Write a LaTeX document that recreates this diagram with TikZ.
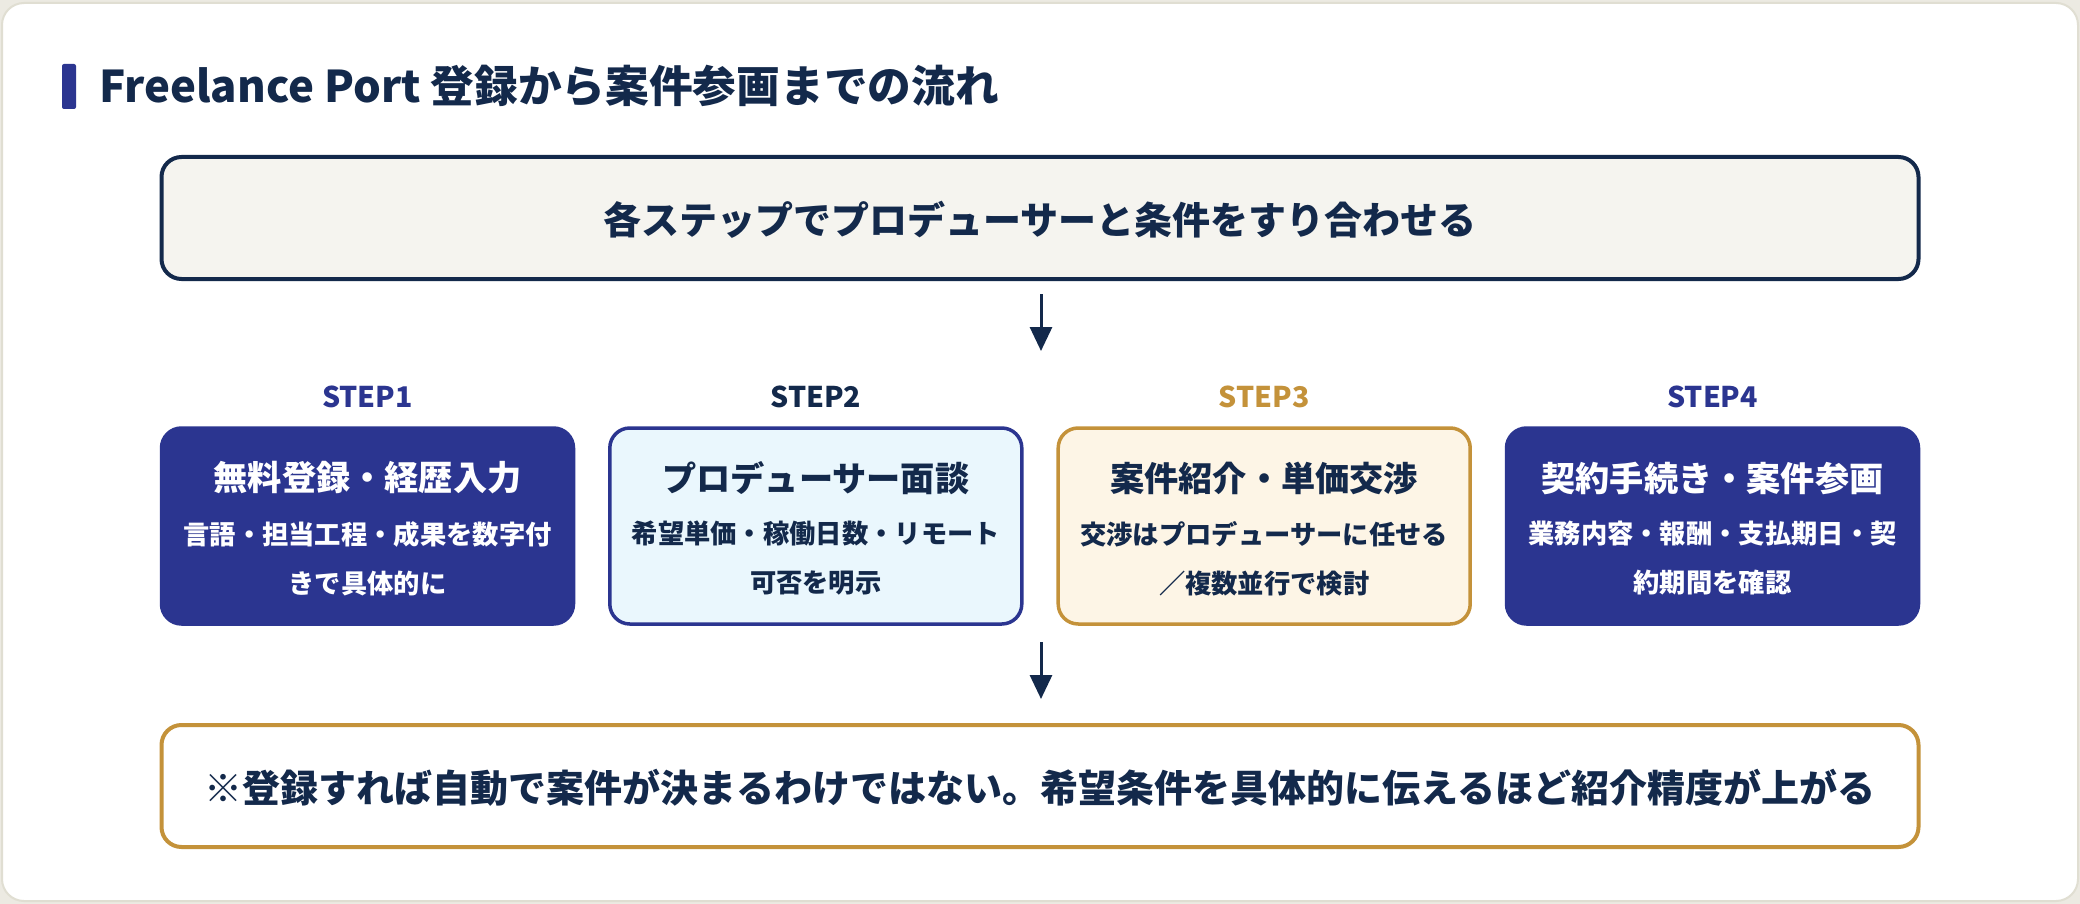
\documentclass[tikz,border=0pt]{standalone}
\usepackage{fontspec}
\setmainfont{Noto Sans CJK JP}
\usetikzlibrary{arrows.meta}
\definecolor{navy}{HTML}{13294B}
\definecolor{indigo}{HTML}{2B3590}
\definecolor{gold}{HTML}{C4923A}
\definecolor{paper}{HTML}{F5F4EF}
\definecolor{skyfill}{HTML}{EAF7FD}
\definecolor{creamfill}{HTML}{FDF5E6}
\definecolor{pagebg}{HTML}{ECEAE2}
\definecolor{cardline}{HTML}{E0DED2}
\tikzset{
  fs/.style 2 args={font=\fontsize{#1}{#2}\selectfont\bfseries},
  card/.style={draw=cardline, line width=2pt, fill=white, rounded corners=22pt},
  banner/.style={draw=navy, line width=4pt, fill=paper, rounded corners=20pt, minimum width=1757pt, minimum height=122pt, inner sep=0pt},
  notebox/.style={draw=gold, line width=4pt, fill=white, rounded corners=20pt, minimum width=1757pt, minimum height=122pt, inner sep=0pt},
  stepbox/.style={rounded corners=20pt, minimum width=412pt, minimum height=196pt, inner sep=0pt, line width=3.5pt},
  darkstep/.style={stepbox, fill=indigo, draw=indigo},
  bluestep/.style={stepbox, fill=skyfill, draw=indigo},
  goldstep/.style={stepbox, fill=creamfill, draw=gold},
  steplabel/.style={fs={28.5}{34}, inner sep=0pt},
  steptitle/.style={fs={34.2}{41}, inner sep=0pt},
  stepsub/.style={font=\fontsize{26.3}{49}\selectfont\bfseries, align=center, inner sep=0pt, anchor=north},
  arr/.style={draw=navy, line width=3pt, -{Triangle[width=22pt,length=24pt]}},
}
\begin{document}
\begin{tikzpicture}[x=1pt,y=-1pt]
\useasboundingbox (0,0) rectangle (2080,904);
\fill[pagebg] (0,0) rectangle (2080,904);
\draw[card] (2,3) rectangle (2078,901);
% title
\node[fill=indigo, rounded corners=2pt, minimum width=14pt, minimum height=45pt, inner sep=0pt] (accent) at (69,86.5) {};
\node[fs={43.7}{50}, text=navy, anchor=west, inner sep=0pt] (title) at (99,86) {Freelance Port 登録から案件参画までの流れ};
% top banner
\node[banner] (top) at (1040,218) {};
\node[fs={38}{44}, text=navy, inner sep=0pt] (toptext) at (1040,220) {各ステップでプロデューサーと条件をすり合わせる};
% arrow 1
\coordinate (a1s) at (1041,294);
\coordinate (a1e) at (1041,351);
\draw[arr] (a1s) -- (a1e);
% step labels
\node[steplabel, text=indigo] (l1) at (367.5,397) {STEP1};
\node[steplabel, text=navy] (l2) at (815.8,397) {STEP2};
\node[steplabel, text=gold] (l3) at (1264.2,397) {STEP3};
\node[steplabel, text=indigo] (l4) at (1712.5,397) {STEP4};
% step boxes
\node[darkstep] (b1) at (367.5,526) {};
\node[bluestep] (b2) at (815.8,526) {};
\node[goldstep] (b3) at (1264.2,526) {};
\node[darkstep] (b4) at (1712.5,526) {};
% step texts
\node[steptitle, text=white] (t1) at (367.5,478) {無料登録・経歴入力};
\node[stepsub, text=white] (s1) at (367.5,521) {言語・担当工程・成果を数字付\\きで具体的に};
\node[steptitle, text=navy] (t2) at (815.8,478) {プロデューサー面談};
\node[stepsub, text=navy] (s2) at (815.8,521) {希望単価・稼働日数・リモート\\可否を明示};
\node[steptitle, text=navy] (t3) at (1264.2,478) {案件紹介・単価交渉};
\node[stepsub, text=navy] (s3) at (1264.2,521) {交渉はプロデューサーに任せる\\／複数並行で検討};
\node[steptitle, text=white] (t4) at (1712.5,478) {契約手続き・案件参画};
\node[stepsub, text=white] (s4) at (1712.5,521) {業務内容・報酬・支払期日・契\\約期間を確認};
% arrow 2
\coordinate (a2s) at (1041,642);
\coordinate (a2e) at (1041,699);
\draw[arr] (a2s) -- (a2e);
% bottom note
\node[notebox] (note) at (1040,786) {};
\node[fs={38}{44}, text=navy, inner sep=0pt] (notetext) at (1040,788) {※登録すれば自動で案件が決まるわけではない。希望条件を具体的に伝えるほど紹介精度が上がる};
\end{tikzpicture}
\end{document}
